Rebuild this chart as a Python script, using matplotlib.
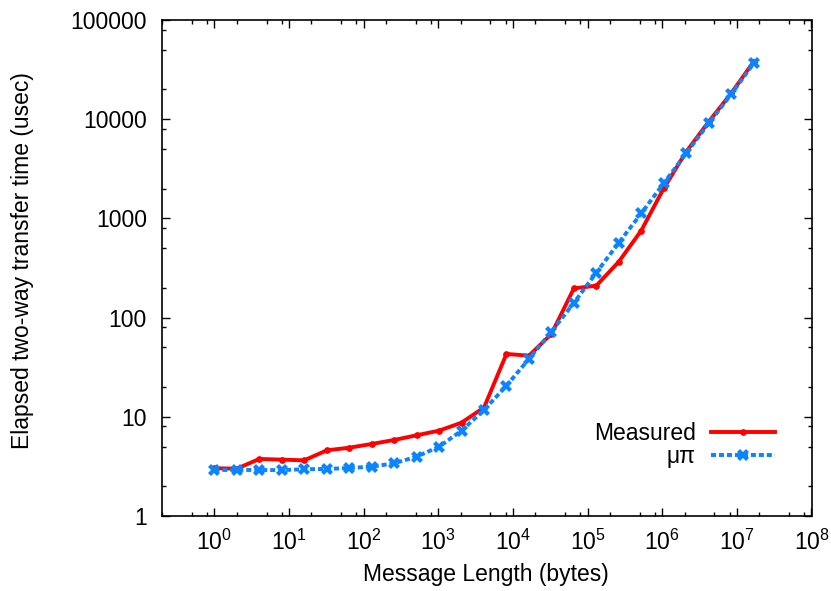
import matplotlib
matplotlib.use("Agg")
import matplotlib.pyplot as plt
import numpy as np
from matplotlib.ticker import FixedLocator, NullFormatter, LogFormatterMathtext

plt.rcParams['font.family'] = ['Liberation Sans', 'DejaVu Sans']
plt.rcParams['mathtext.fontset'] = 'custom'
plt.rcParams['mathtext.rm'] = 'Liberation Sans'
plt.rcParams['mathtext.it'] = 'Liberation Sans'

msg_len = [2 ** k for k in range(25)]
measured = [3.03, 3.0, 3.76, 3.70, 3.64, 4.59, 4.88, 5.32, 5.84, 6.51, 7.25, 8.73, 12.4,
            43.0, 41.3, 68.4, 197, 210, 366, 755, 2011, 4700, 9440, 18240, 38000]
mupi = [2.91, 2.91, 2.91, 2.90, 2.96, 2.98, 3.05, 3.14, 3.40, 3.96, 5.0, 7.25, 11.7,
        20.6, 38.3, 72, 141, 284, 569, 1125, 2260, 4530, 9080, 17800, 36600]

x_ticks = [10.0 ** k for k in range(9)]
y_ticks = [1, 10, 100, 1000, 10000, 100000]
y_labels = ['1', '10', '100', '1000', '10000', '100000']

FS = 16.5
W, H = 831, 591
fig = plt.figure(figsize=(W / 100, H / 100), dpi=100)
left, right, top, bottom = 162.2, 811.5, 20, 516
ax = fig.add_axes([left / W, (H - bottom) / H, (right - left) / W, (bottom - top) / H])

ax.plot(msg_len, measured, color='#ff0000', lw=2.8, marker='o', ms=4,
        markeredgewidth=0.8, label='Measured', zorder=2)
ax.plot(msg_len, mupi, color='#0a84ff', lw=2.8, ls=(0, (1.3, 0.75)), marker='X', ms=9,
        markeredgewidth=0, label='μπ', zorder=3)

ax.set_xscale('log')
ax.set_yscale('log')
ax.set_xlim(0.2, 1e8)
ax.set_ylim(1, 1e5)

ax.xaxis.set_major_locator(FixedLocator(x_ticks))
ax.xaxis.set_major_formatter(LogFormatterMathtext())
minor = []
for k in range(-1, 8):
    for m in (2, 5, 8):
        minor.append(m * 10.0 ** k)
ax.xaxis.set_minor_locator(FixedLocator(minor))
ax.xaxis.set_minor_formatter(NullFormatter())
ax.yaxis.set_major_locator(FixedLocator(y_ticks))
ax.set_yticklabels(y_labels)
ax.yaxis.set_minor_locator(FixedLocator([m * 10.0 ** k for k in range(0, 5) for m in (2, 5, 8)]))
ax.yaxis.set_minor_formatter(NullFormatter())

ax.tick_params(which='both', direction='in', top=True, right=True, width=1.0, labelsize=FS)
ax.tick_params(axis='y', pad=11)
ax.tick_params(axis='x', pad=10)
ax.tick_params(which='major', length=6)
ax.tick_params(which='minor', length=3)
for s in ax.spines.values():
    s.set_linewidth(1.2)

fig.text(486 / W, 1 - 575 / H, 'Message Length (bytes)', fontsize=FS, ha='center', va='center')
fig.text(23 / W, 1 - 261 / H, 'Elapsed two-way transfer time (usec)', fontsize=FS,
         ha='center', va='center', rotation=90)

ax.legend(loc='lower right', bbox_to_anchor=(775 / W, 1 - 468 / H), bbox_transform=fig.transFigure,
          frameon=False, markerfirst=False, fontsize=FS, handlelength=2.8, handletextpad=0.65,
          labelspacing=0.0, borderaxespad=0, borderpad=0)

fig.savefig('out.png', dpi=100)
